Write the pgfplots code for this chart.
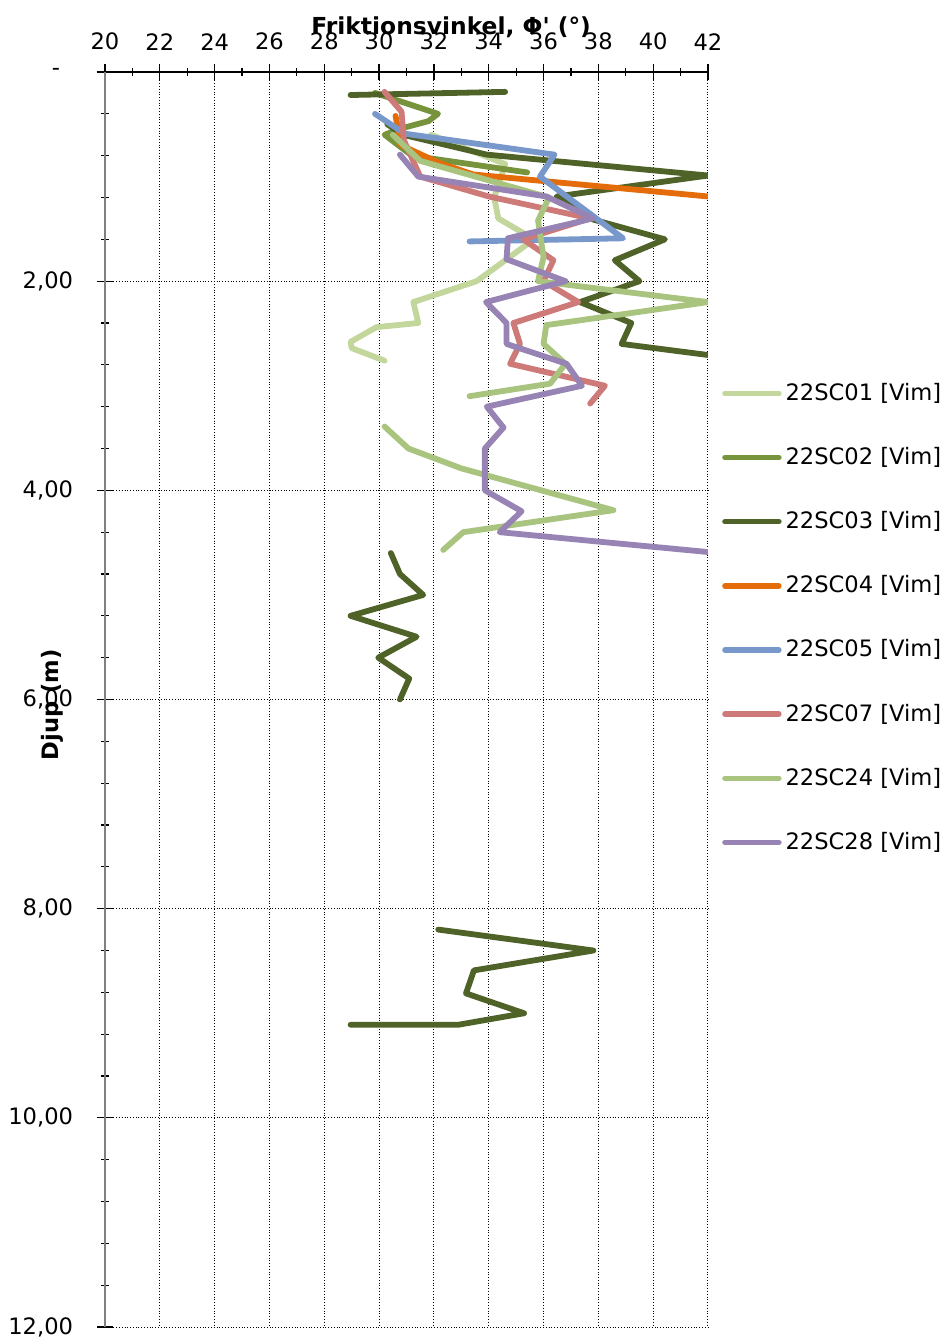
\documentclass[border=0pt]{standalone}
\usepackage{pgfplots}
\pgfplotsset{compat=1.18}
\usepackage{fontspec}
\setmainfont{DejaVu Sans}[Ligatures=TeXOff]
\definecolor{cA}{HTML}{C3D69B}
\definecolor{cB}{HTML}{77933C}
\definecolor{cC}{HTML}{4F6228}
\definecolor{cD}{HTML}{E46C0A}
\definecolor{cE}{HTML}{7898CB}
\definecolor{cF}{HTML}{CD7A78}
\definecolor{cG}{HTML}{A8C47E}
\definecolor{cH}{HTML}{9783B4}
\begin{document}
\fontsize{11.3bp}{13.6bp}\selectfont
\begin{tikzpicture}
\useasboundingbox (-52.5bp,-6.5bp) rectangle (419bp,663.5bp);
\begin{axis}[
  at={(0,0)}, anchor=south west,
  scale only axis, width=301.5bp, height=627.5bp,
  xmin=20, xmax=42, ymin=0, ymax=12,
  y dir=reverse,
  axis x line*=bottom, axis y line*=left,
  xtick pos=right, xticklabel pos=right,
  axis line style={-},
  x axis line style={black, line width=0.8bp},
  y axis line style={gray, line width=0.8bp},
  xtick={20,22,...,42}, ytick={0,2,...,12},
  yticklabels={{-\hspace*{6.5bp}\mbox{}},{2,00},{4,00},{6,00},{8,00},{10,00},{12,00}},
  minor x tick num=1, minor y tick num=4,
  tick align=center, major tick length=8bp, minor tick length=4bp,
  tick style={black, line width=0.6bp},
  grid=major, major grid style={black, densely dotted, line width=0.5bp},
  /pgf/number format/assume math mode=true,
  xticklabel style={yshift=3bp},
  yticklabel style={xshift=-8bp},
  unbounded coords=jump,
  xlabel={\fontsize{11.7bp}{14bp}\selectfont\bfseries Friktionsvinkel, Φ' (°)},
  xlabel style={at={(axis description cs:0.574,1.036)}, anchor=center},
  ylabel={\bfseries Djup (m)},
  ylabel style={at={(axis description cs:-0.088,0.4956)}, anchor=center, rotate=0},
  legend style={draw=none, fill=none, at={(axis description cs:1.013,0.565)}, anchor=west, row sep=17.8bp, cells={anchor=west}},
  legend image code/.code={\draw[#1, line width=2.7bp, line cap=round] (0bp,0bp) -- (27bp,0bp);},
  every axis plot/.append style={line width=2.9bp, line join=round, line cap=round},
]
\addplot[cA] coordinates {(31.9,0.6) (34.6,0.88) (34.2,1.2) (34.35,1.4) (35.65,1.6) (33.56,2.0) (31.25,2.2) (31.43,2.4) (29.9,2.44) (28.96,2.58) (29.0,2.64) (30.2,2.76)};
\addlegendentry{22SC01 [Vim]}
\addplot[cB] coordinates {(29.85,0.2) (32.15,0.4) (31.8,0.47) (30.8,0.54) (30.2,0.6) (31.2,0.8) (35.4,0.96)};
\addlegendentry{22SC02 [Vim]}
\addplot[cC] coordinates {(34.6,0.19) (28.96,0.22) (nan,nan) (30.3,0.5) (30.87,0.6) (33.93,0.79) (42,0.99) (36.48,1.19) (37.8,1.41) (40.43,1.6) (38.6,1.8) (39.5,2.0) (37.33,2.2) (39.2,2.4) (38.85,2.6) (44.8,2.8)
 (nan,nan) (30.43,4.6) (30.76,4.8) (31.61,5.0) (28.96,5.2) (31.37,5.4) (29.97,5.6) (31.1,5.8) (30.76,6.0)
 (nan,nan) (32.16,8.2) (37.82,8.4) (33.46,8.59) (33.17,8.81) (35.29,9.0) (32.89,9.11) (28.96,9.11)};
\addlegendentry{22SC03 [Vim]}
\addplot[cD] coordinates {(30.6,0.42) (30.8,0.7) (32.2,0.87) (33.44,0.98) (42,1.19)};
\addlegendentry{22SC04 [Vim]}
\addplot[cE] coordinates {(29.85,0.4) (30.94,0.59) (36.4,0.79) (35.87,1.0) (37.0,1.22) (38.9,1.59) (33.3,1.62)};
\addlegendentry{22SC05 [Vim]}
\addplot[cF] coordinates {(30.2,0.19) (30.82,0.38) (30.9,0.65) (31.5,1.0) (34.0,1.19) (37.7,1.4) (35.26,1.6) (36.36,1.8) (36.0,2.0) (37.27,2.2) (34.9,2.4) (35.14,2.6) (34.78,2.79) (38.24,3.0) (37.7,3.17)};
\addlegendentry{22SC07 [Vim]}
\addplot[cG] coordinates {(30.5,0.6) (31.5,0.85) (36.2,1.2) (35.8,1.42) (36.0,1.77) (35.8,2.0) (42,2.2) (36.1,2.42) (36.0,2.6) (36.8,2.79) (36.24,2.98) (33.3,3.1)
 (nan,nan) (30.2,3.39) (31.07,3.6) (33.0,3.79) (38.55,4.19) (33.07,4.4) (32.34,4.57)};
\addlegendentry{22SC24 [Vim]}
\addplot[cH] coordinates {(30.76,0.79) (31.43,1.0) (36.1,1.19) (37.8,1.4) (34.7,1.59) (34.65,1.79) (36.8,2.0) (33.9,2.2) (34.65,2.4) (34.65,2.6) (36.84,2.79) (37.4,3.0) (33.93,3.2) (34.54,3.4) (33.86,3.6) (33.86,4.0) (35.2,4.2) (34.4,4.4) (42,4.59)};
\addlegendentry{22SC28 [Vim]}
\end{axis}
\end{tikzpicture}
\end{document}
